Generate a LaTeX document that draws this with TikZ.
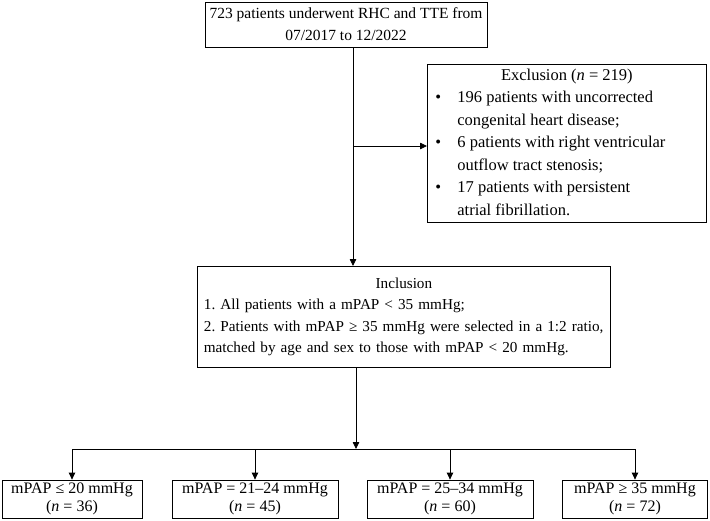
\documentclass[tikz,border=0pt]{standalone}
\usepackage{fontspec}
\setmainfont{Liberation Serif}
\frenchspacing
\usetikzlibrary{arrows.meta}

\begin{document}
\begin{tikzpicture}[x=1pt,y=-1pt,line width=0.8pt,
  box/.style={draw,inner sep=0pt,font=\fontsize{15.5}{22}\selectfont},
  grp/.style={box,minimum height=38,align=center,font=\fontsize{16}{18}\selectfont},
  arr/.style={-{Triangle[length=7pt,width=6.5pt]}}]
\useasboundingbox (0,0) rectangle (710,520);

\node[box,minimum width=282,minimum height=45,align=center] (start) at (346,24.5)
  {723 patients underwent RHC and TTE from\\07/2017 to 12/2022};

\node[box,anchor=north west,minimum width=279,minimum height=152,
  font=\fontsize{16.5}{22.5}\selectfont] (excl) at (427,64)
  {\begin{tabular}{@{\hspace{8pt}}p{12pt}@{\hspace{10pt}}p{249pt}@{}}
   \multicolumn{2}{c}{Exclusion (\textit{n} = 219)}\\
   \textbullet & 196 patients with uncorrected\\
               & congenital heart disease;\\
   \textbullet & 6 patients with right ventricular\\
               & outflow tract stenosis;\\
   \textbullet & 17 patients with persistent\\
               & atrial fibrillation.
   \end{tabular}};

\node[box,anchor=north west,minimum width=413,minimum height=101,inner xsep=6.5pt,
  text width=400,align=left,font=\fontsize{15.2}{21.5}\selectfont] (incl) at (197,266)
  {\makebox[\linewidth][c]{Inclusion}\\
   1. All patients with a mPAP < 35 mmHg;\\
   \mbox{2. Patients with mPAP ≥ 35 mmHg were selected in a 1:2 ratio,}\\
   matched by age and sex to those with mPAP < 20 mmHg.};

\node[grp,minimum width=140] (g1) at (72,499) {mPAP ≤ 20 mmHg\\(\textit{n} = 36)};
\node[grp,minimum width=166] (g2) at (255,499) {mPAP = 21–24 mmHg\\(\textit{n} = 45)};
\node[grp,minimum width=166] (g3) at (450,499) {mPAP = 25–34 mmHg\\(\textit{n} = 60)};
\node[grp,minimum width=145] (g4) at (635,499) {mPAP ≥ 35 mmHg\\(\textit{n} = 72)};

\coordinate (split) at (353,146);
\coordinate (hub) at (356,449);

\draw[arr] (start.south -| split) -- (incl.north -| split);
\draw[arr] (split) -- (excl.west |- split);
\draw[arr] (incl.south -| hub) -- (hub);
\draw (g1 |- hub) -- (g4 |- hub);
\foreach \g in {g1,g2,g3,g4}
  \draw[arr] (\g |- hub) -- (\g.north);
\end{tikzpicture}
\end{document}
